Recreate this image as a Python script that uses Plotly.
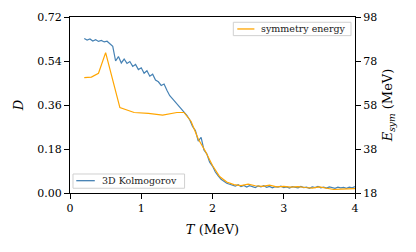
import plotly.graph_objects as go

# 3D Kolmogorov analysis: D vs T
T_kol = [0.20, 0.24, 0.28, 0.32, 0.36, 0.40, 0.44, 0.48, 0.52, 0.56,
         0.60, 0.64, 0.68, 0.72, 0.76, 0.80, 0.84, 0.88, 0.92, 0.96,
         1.00, 1.04, 1.08, 1.12, 1.16, 1.20, 1.24, 1.28, 1.32, 1.36,
         1.40, 1.44, 1.48, 1.52, 1.56, 1.60, 1.64, 1.68, 1.72, 1.76,
         1.80, 1.84, 1.88, 1.92, 1.96, 2.00, 2.04, 2.08, 2.12, 2.16,
         2.20, 2.24, 2.28, 2.32, 2.36, 2.40, 2.44, 2.48, 2.52, 2.56,
         2.60, 2.64, 2.68, 2.72, 2.76, 2.80, 2.84, 2.88, 2.92, 2.96,
         3.00, 3.04, 3.08, 3.12, 3.16, 3.20, 3.24, 3.28, 3.32, 3.36,
         3.40, 3.44, 3.48, 3.52, 3.56, 3.60, 3.64, 3.68, 3.72, 3.76,
         3.80, 3.84, 3.88, 3.92, 3.96, 4.00]
D_kol = [0.632, 0.626, 0.630, 0.622, 0.627, 0.620, 0.624, 0.618, 0.621, 0.612,
         0.600, 0.540, 0.558, 0.532, 0.548, 0.530, 0.538, 0.518, 0.526, 0.505,
         0.512, 0.490, 0.500, 0.478, 0.486, 0.462, 0.455, 0.440, 0.446, 0.420,
         0.398, 0.385, 0.372, 0.360, 0.346, 0.335, 0.318, 0.300, 0.272, 0.256,
         0.212, 0.228, 0.176, 0.160, 0.126, 0.110, 0.086, 0.070, 0.056, 0.048,
         0.040, 0.036, 0.032, 0.028, 0.034, 0.026, 0.031, 0.024, 0.030, 0.027,
         0.022, 0.029, 0.025, 0.030, 0.023, 0.027, 0.021, 0.026, 0.024, 0.028,
         0.022, 0.025, 0.020, 0.026, 0.023, 0.021, 0.027, 0.022, 0.024, 0.019,
         0.025, 0.022, 0.027, 0.021, 0.024, 0.020, 0.025, 0.022, 0.019, 0.024,
         0.021, 0.023, 0.019, 0.024, 0.021, 0.026]

# symmetry energy vs T (right axis)
T_sym = [0.2, 0.3, 0.4, 0.5, 0.7, 0.9, 1.1, 1.3, 1.5, 1.6, 1.7, 1.8, 1.9, 2.0,
         2.1, 2.2, 2.3, 2.4, 2.5, 2.6, 2.7, 2.8, 2.9, 3.0, 3.1, 3.2, 3.3, 3.4,
         3.5, 3.6, 3.7, 3.8, 3.9, 4.0]
E_sym = [70.4, 70.7, 72.4, 81.8, 56.8, 54.6, 54.2, 53.4, 54.6, 54.6, 50.5, 42.5,
         37.0, 30.5, 25.5, 23.0, 21.8, 21.4, 22.0, 21.3, 21.0, 21.6, 20.8, 21.0,
         20.7, 20.9, 20.5, 20.2, 20.8, 20.3, 19.6, 19.8, 20.0, 20.0]

x_ticks = [0, 1, 2, 3, 4]
d_ticks = [0.00, 0.18, 0.36, 0.54, 0.72]
e_ticks = [18, 38, 58, 78, 98]

NAME_KOL = "3D Kolmogorov"
NAME_SYM = "symmetry energy"
COL_KOL = "#4682b4"
COL_SYM = "#ffa500"

FONT = "'DejaVu Serif', 'Liberation Serif', serif"

fig = go.Figure()
fig.add_trace(go.Scatter(x=T_kol, y=D_kol, mode="lines", name=NAME_KOL,
                         line=dict(color=COL_KOL, width=1.2), yaxis="y",
                         showlegend=False))
fig.add_trace(go.Scatter(x=T_sym, y=E_sym, mode="lines", name=NAME_SYM,
                         line=dict(color=COL_SYM, width=1.2), yaxis="y2",
                         showlegend=False))

axis_common = dict(showgrid=False, zeroline=False, showline=True, linecolor="black",
                   linewidth=1.2, ticks="outside", ticklen=5, tickwidth=1,
                   tickcolor="black", automargin=False,
                   tickfont=dict(family=FONT, size=11, color="black"))


def legend_box(x0, x1, y0, y1, lx0, lx1, ly, tx, text, color):
    fig.add_shape(type="rect", xref="paper", yref="paper", x0=x0, x1=x1, y0=y0, y1=y1,
                  line=dict(color="#d0d0d0", width=1), fillcolor="rgba(255,255,255,0.85)",
                  layer="above")
    fig.add_shape(type="line", xref="paper", yref="paper", x0=lx0, x1=lx1, y0=ly, y1=ly,
                  line=dict(color=color, width=1.3), layer="above")
    fig.add_annotation(xref="paper", yref="paper", x=tx, y=ly, text=text, showarrow=False,
                       xanchor="left", yanchor="middle",
                       font=dict(family=FONT, size=9.5, color="#222222"))


legend_box(0.573, 0.986, 0.894, 0.970, 0.587, 0.647, 0.932, 0.662, NAME_SYM, COL_SYM)
legend_box(0.0105, 0.402, 0.027, 0.108, 0.022, 0.087, 0.070, 0.105, NAME_KOL, COL_KOL)

fig.update_layout(
    width=408, height=244,
    margin=dict(l=62, r=61, t=9, b=59),
    plot_bgcolor="white", paper_bgcolor="white",
    font=dict(family=FONT, color="black"),
    xaxis=dict(range=[0, 4], tickvals=x_ticks, mirror=True,
               title=dict(text="<i>T</i> (MeV)", font=dict(family=FONT, size=13), standoff=10),
               **axis_common),
    yaxis=dict(range=[0, 0.72], tickvals=d_ticks, tickformat=".2f",
               title=dict(text="<i>D</i>", font=dict(family=FONT, size=13), standoff=10),
               **axis_common),
    yaxis2=dict(range=[18, 98], tickvals=e_ticks, overlaying="y", side="right",
                title=dict(text="<i>E<sub>sym</sub></i> (MeV)", font=dict(family=FONT, size=13), standoff=6),
                **axis_common),
)

fig.write_html("out.html")
